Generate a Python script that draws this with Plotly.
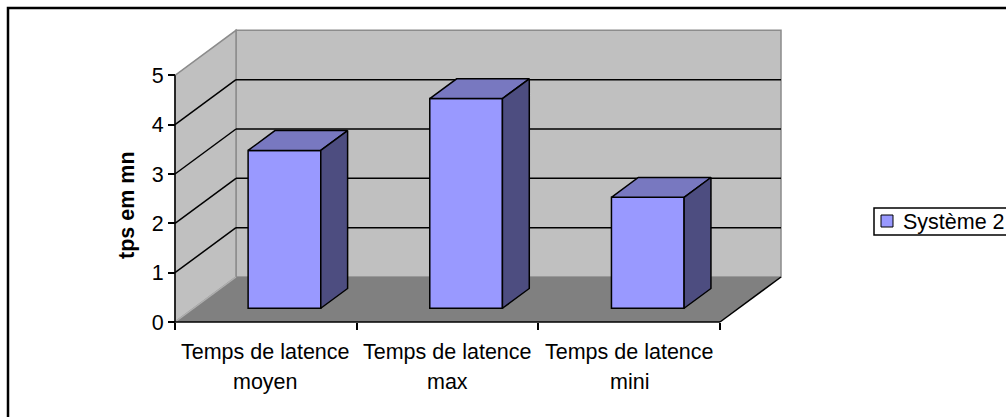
import plotly.graph_objects as go

# ---- data ----
categories = ["Temps de latence<br>moyen", "Temps de latence<br>max", "Temps de latence<br>mini"]
values = [3.2, 4.25, 2.25]
series_name = "Système 2"
y_ticks = [0, 1, 2, 3, 4, 5]
y_title = "tps em mn"

# ---- page / plot-area geometry (pixels) ----
W, H = 1006, 417
L, R, T, B = 165, 795, 22, 330          # plot area box
X0_PX, Y0_PX = 175, 322                 # where (0, 0) sits on the page
PX_X = 181.67                           # pixels per category
PX_Y = 49.33                            # pixels per value unit
DEPTH_PX = (61, 45)                     # oblique offset of the full floor depth

x_range = [(L - X0_PX) / PX_X, (R - X0_PX) / PX_X]
y_range = [(Y0_PX - B) / PX_Y, (Y0_PX - T) / PX_Y]
DX = DEPTH_PX[0] / PX_X
DY = DEPTH_PX[1] / PX_Y

n = len(categories)
y_max = max(y_ticks)

# bar footprint inside each category slot
BAR_HALF = 0.2
D_FRONT, D_BACK = 0.305, 0.745

FRONT = "#9999FF"
TOP = "#7878C0"
SIDE = "#4D4D80"
WALL = "#C0C0C0"
FLOOR = "#808080"
EDGE = "#8C8C8C"
FONT = "Liberation Sans, Arial, sans-serif"
FS = 21.5


def proj(x, y, d):
    """Oblique projection of a point at depth d (0 = front, 1 = back)."""
    return x + d * DX, y + d * DY


def path(points):
    pts = [proj(*p) for p in points]
    return "M " + " L ".join(f"{px:.5f},{py:.5f}" for px, py in pts) + " Z"


def seg(p, q, color, width):
    (x0, y0), (x1, y1) = proj(*p), proj(*q)
    return dict(type="line", xref="x", yref="y", x0=x0, y0=y0, x1=x1, y1=y1,
                line=dict(color=color, width=width), layer="below")


def px_paper(xp):
    return (xp - L) / (R - L)


def py_paper(yp):
    return (B - yp) / (B - T)


shapes = []
# back wall
shapes.append(dict(type="path", xref="x", yref="y", layer="below",
                   path=path([(0, 0, 1), (n, 0, 1), (n, y_max, 1), (0, y_max, 1)]),
                   fillcolor=WALL, line=dict(color=EDGE, width=1.5)))
# side wall
shapes.append(dict(type="path", xref="x", yref="y", layer="below",
                   path=path([(0, 0, 0), (0, y_max, 0), (0, y_max, 1), (0, 0, 1)]),
                   fillcolor=WALL, line=dict(color=EDGE, width=1.5)))
# floor
shapes.append(dict(type="path", xref="x", yref="y", layer="below",
                   path=path([(0, 0, 0), (n, 0, 0), (n, 0, 1), (0, 0, 1)]),
                   fillcolor=FLOOR, line=dict(width=0)))
shapes.append(seg((0, 0, 0), (0, 0, 1), "#B0B0B0", 1.5))
# gridlines across side wall and back wall
for k in y_ticks[1:-1]:
    shapes.append(seg((0, k, 0), (0, k, 1), "black", 1.5))
    shapes.append(seg((0, k, 1), (n, k, 1), "black", 1.5))
# floor right edge, axis lines
shapes.append(seg((n, 0, 0), (n, 0, 1), "black", 1.5))
shapes.append(seg((0, 0, 0), (n, 0, 0), "black", 1.5))
shapes.append(seg((0, 0, 0), (0, y_max, 0), "black", 1.5))

fig = go.Figure()

# front faces of the columns
fig.add_trace(go.Bar(
    x=[proj(i + 0.5, 0, D_FRONT)[0] for i in range(n)],
    y=values,
    base=[proj(0, 0, D_FRONT)[1]] * n,
    width=2 * BAR_HALF,
    marker=dict(color=FRONT, line=dict(color="black", width=1.5)),
    name=series_name, showlegend=False, hoverinfo="skip",
))

# top and right-hand faces
for i, v in enumerate(values):
    xl, xr = i + 0.5 - BAR_HALF, i + 0.5 + BAR_HALF
    top = [proj(xl, v, D_FRONT), proj(xr, v, D_FRONT), proj(xr, v, D_BACK),
           proj(xl, v, D_BACK), proj(xl, v, D_FRONT)]
    side = [proj(xr, 0, D_FRONT), proj(xr, v, D_FRONT), proj(xr, v, D_BACK),
            proj(xr, 0, D_BACK), proj(xr, 0, D_FRONT)]
    for pts, col in ((top, TOP), (side, SIDE)):
        fig.add_trace(go.Scatter(
            x=[p[0] for p in pts], y=[p[1] for p in pts],
            mode="lines", fill="toself", fillcolor=col,
            line=dict(color="black", width=1.5),
            showlegend=False, hoverinfo="skip",
        ))

annotations = []
# category labels (two lines each)
for i, cat in enumerate(categories):
    for j, line in enumerate(cat.split("<br>")):
        annotations.append(dict(
            x=i + 0.5, y=0, xref="x", yref="y", text=line, showarrow=False,
            xanchor="center", yanchor="middle", yshift=-(30 + 30 * j),
            font=dict(family=FONT, size=FS, color="black"),
        ))
# axis title
annotations.append(dict(
    x=px_paper(127), y=py_paper(205), xref="paper", yref="paper",
    text=f"<b>{y_title}</b>", textangle=-90, showarrow=False,
    xanchor="center", yanchor="middle",
    font=dict(family=FONT, size=FS, color="black"),
))
# legend text
annotations.append(dict(
    x=px_paper(901), y=py_paper(222), xref="paper", yref="paper",
    text=series_name, showarrow=False, xanchor="left", yanchor="middle",
    font=dict(family=FONT, size=FS, color="black"),
))

# chart border and legend box
shapes.append(dict(type="rect", xref="paper", yref="paper",
                   x0=px_paper(8), x1=px_paper(W + 20), y0=py_paper(H + 20), y1=py_paper(8),
                   line=dict(color="black", width=2.5), fillcolor="rgba(0,0,0,0)", layer="below"))
shapes.append(dict(type="rect", xref="paper", yref="paper",
                   x0=px_paper(874), x1=px_paper(W + 20), y0=py_paper(235), y1=py_paper(208),
                   line=dict(color="black", width=1.5), fillcolor="white", layer="above"))
shapes.append(dict(type="rect", xref="paper", yref="paper",
                   x0=px_paper(881), x1=px_paper(893), y0=py_paper(227), y1=py_paper(215),
                   line=dict(color="black", width=1), fillcolor=FRONT, layer="above"))

fig.update_layout(
    width=W, height=H,
    margin=dict(l=L, r=W - R, t=T, b=H - B, pad=0),
    paper_bgcolor="white", plot_bgcolor="rgba(0,0,0,0)",
    shapes=shapes, annotations=annotations,
    showlegend=False, barmode="overlay",
    xaxis=dict(range=x_range, tickvals=list(range(n + 1)), showticklabels=False,
               ticks="outside", ticklen=7, tickwidth=1.5, tickcolor="black",
               showgrid=False, zeroline=False, showline=False,
               anchor="free", position=py_paper(Y0_PX), fixedrange=True),
    yaxis=dict(range=y_range, tickvals=y_ticks, ticks="outside", ticklen=7,
               tickwidth=1.5, tickcolor="black", showgrid=False, zeroline=False,
               showline=False, anchor="free", position=px_paper(X0_PX),
               tickfont=dict(family=FONT, size=FS, color="black"), fixedrange=True),
)

fig.write_html("out.html")
